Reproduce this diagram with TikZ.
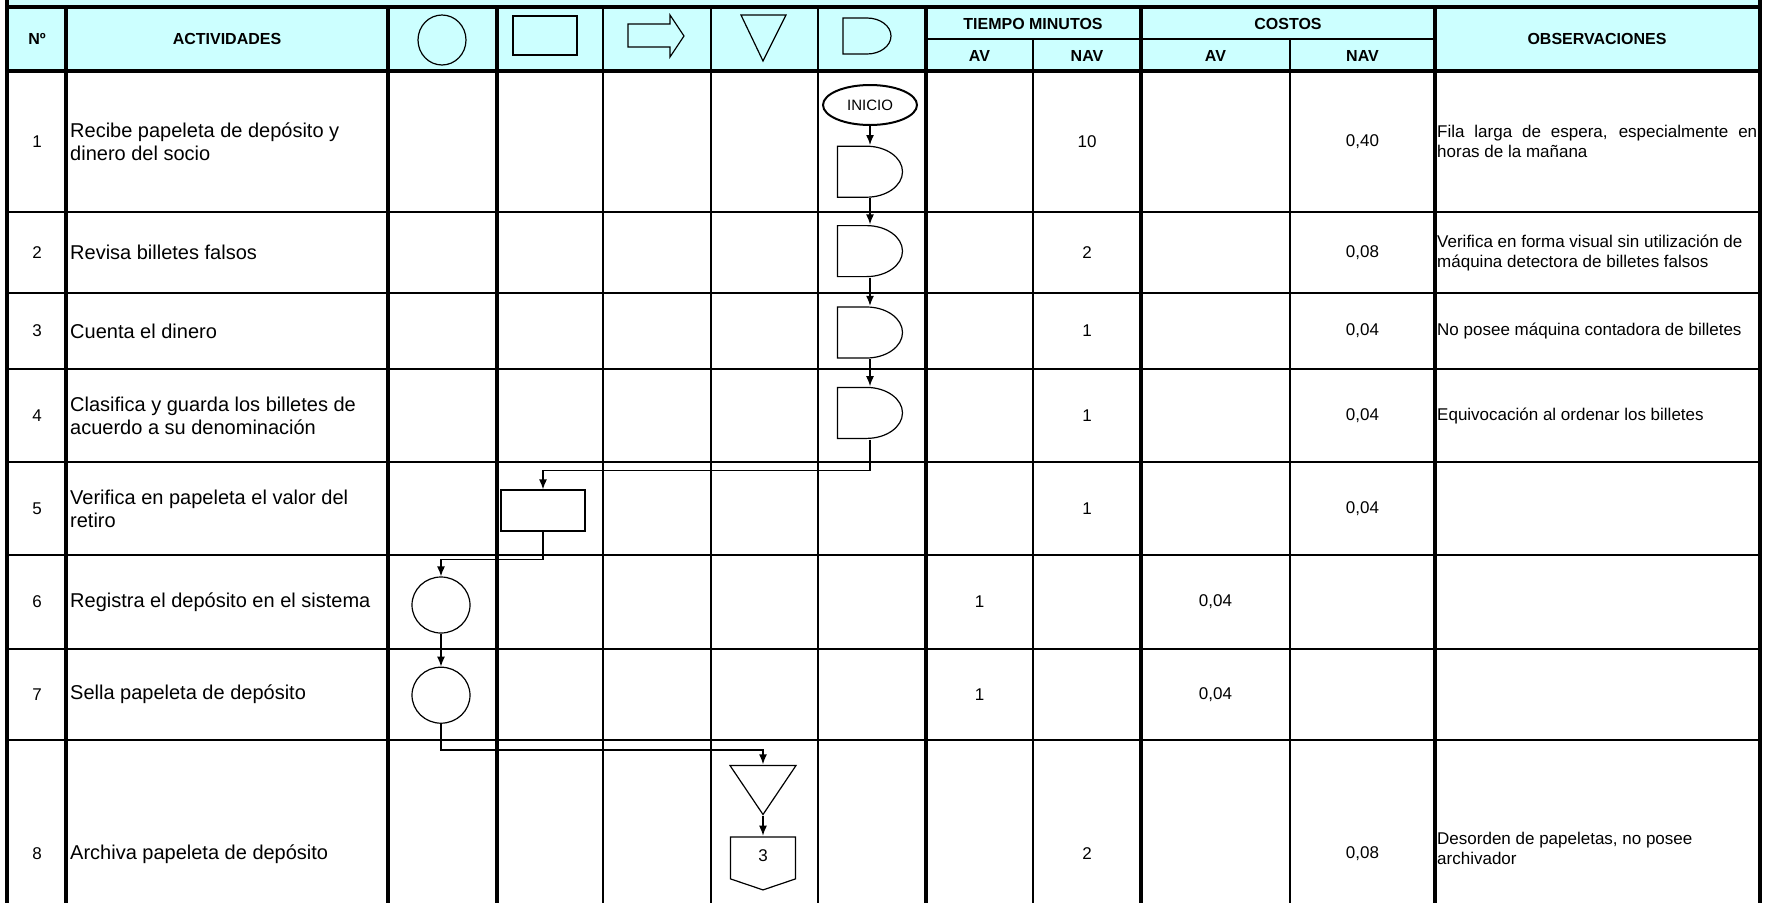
\documentclass[tikz,border=0pt]{standalone}
\usepackage{fontspec}
\setmainfont{Liberation Sans}
\usepackage{xcolor}
\usepackage{tikz}
\usetikzlibrary{shapes,arrows.meta,positioning,calc}
\definecolor{cabecera}{HTML}{CCFFFF}
\tikzstyle{grueso} = [line width=3.2pt]
\tikzstyle{fino} = [line width=2.2pt]
\tikzstyle{simbolo} = [line width=1.2pt]
\tikzstyle{arrow} = [-{Latex[length=10pt,width=8pt]}, line width=1.4pt]
\tikzstyle{startstop} = [ellipse, draw, line width=2pt, minimum width=94pt,
    minimum height=40pt, inner sep=0pt, font=\fontsize{15}{17}\selectfont]
\tikzstyle{demora} = [minimum width=67pt, minimum height=53pt, inner sep=0pt,
    path picture={\draw[simbolo] ([shift={(1,1)}]path picture bounding box.north west) -- ++(29,0)
      arc[start angle=-90, end angle=90, x radius=36, y radius=25.5]
      -- ([shift={(1,-1)}]path picture bounding box.south west) -- cycle;}]
\tikzstyle{operacion} = [ellipse, draw, line width=1.2pt, minimum width=58pt,
    minimum height=56pt, inner sep=0pt]
\tikzstyle{inspeccion} = [rectangle, draw, line width=1.2pt, minimum width=84pt,
    minimum height=41pt, inner sep=0pt]
\tikzstyle{archivo} = [minimum width=68pt, minimum height=51pt, inner sep=0pt,
    path picture={\draw[simbolo] ([shift={(1,1)}]path picture bounding box.north west)
      -- ([shift={(-1,1)}]path picture bounding box.north east)
      -- ([shift={(0,-1)}]path picture bounding box.south) -- cycle;}]
\tikzstyle{conector} = [minimum width=67pt, minimum height=55pt, inner sep=0pt,
    text depth=15pt, font=\fontsize{17}{20}\selectfont,
    path picture={\draw[simbolo] ([shift={(1,1)}]path picture bounding box.north west)
      -- ([shift={(-1,1)}]path picture bounding box.north east)
      -- ([shift={(-1,43)}]path picture bounding box.north east)
      -- ([shift={(0,-1)}]path picture bounding box.south)
      -- ([shift={(1,43)}]path picture bounding box.north west) -- cycle;}]
\tikzstyle{titulo} = [font=\bfseries\fontsize{16}{18}\selectfont]
\tikzstyle{actividad} = [anchor=west, align=left, inner sep=0pt, font=\fontsize{20}{23}\selectfont]
\tikzstyle{valor} = [font=\fontsize{17}{20}\selectfont]
\tikzstyle{nota} = [anchor=west, align=left, inner sep=0pt, font=\fontsize{17}{20}\selectfont]

\begin{document}
\begin{tikzpicture}[x=1pt,y=-1pt]
\useasboundingbox (0,0) rectangle (1770,903);
% cabecera
\fill[cabecera] (7,0) rectangle (1760,71);
% rejilla
\draw[fino] (603,7) -- (603,903) (711,7) -- (711,903) (818,7) -- (818,903)
    (1033,39) -- (1033,903) (1290,39) -- (1290,903) (926,39) -- (1435,39)
    (7,212) -- (1760,212) (7,293) -- (1760,293) (7,369) -- (1760,369)
    (7,462) -- (1760,462) (7,555) -- (1760,555) (7,649) -- (1760,649)
    (7,740) -- (1760,740);
\draw[grueso] (7,0) -- (7,903) (1760,0) -- (1760,903) (7,7) -- (1760,7) (7,71) -- (1760,71)
    (66,7) -- (66,903) (388,7) -- (388,903) (497,7) -- (497,903)
    (926,7) -- (926,903) (1141,7) -- (1141,903) (1435,7) -- (1435,903);

% simbolos de la cabecera
\draw[simbolo] (442,40) ellipse [x radius=24, y radius=25];
\draw[simbolo] (513,16) rectangle (577,55);
\draw[simbolo] (628,24) -- (670,24) -- (670,15) -- (684,36) -- (670,57) -- (670,47) -- (628,47) -- cycle;
\draw[simbolo] (741,15) -- (786,15) -- (763,61) -- cycle;
\draw[simbolo] (843,18) -- (867,18) arc[start angle=-90, end angle=90, x radius=24, y radius=18] -- (843,54) -- cycle;

\node[titulo] (h1) at (37,39) {Nº};
\node[titulo] (h2) at (227,39) {ACTIVIDADES};
\node[titulo] (h3) at (1033,24) {TIEMPO MINUTOS};
\node[titulo] (h4) at (979.5,56) {AV};
\node[titulo] (h5) at (1087,56) {NAV};
\node[titulo] (h6) at (1288,24) {COSTOS};
\node[titulo] (h7) at (1215.5,56) {AV};
\node[titulo] (h8) at (1362.5,56) {NAV};
\node[titulo] (h9) at (1597,39) {OBSERVACIONES};

% flujo
\node[startstop] (s0) at (870,105) {INICIO};
\node[demora, below=19pt of s0] (s1) {};
\node[demora, below=26pt of s1] (s2) {};
\node[demora, below=28pt of s2] (s3) {};
\node[demora, below=27pt of s3] (s4) {};
\node[inspeccion] (s5) at (543,510.5) {};
\node[operacion] (s6) at (441,605) {};
\node[operacion, below=33pt of s6] (s7) {};
\node[archivo] (s8) at (763,790) {};
\node[conector, below=20pt of s8] (s9) {3};

\draw[arrow] (s0) -- (s1);
\draw[arrow] (s1) -- (s2);
\draw[arrow] (s2) -- (s3);
\draw[arrow] (s3) -- (s4);
\draw[arrow] (s4.south) -- ++(0,31) -| (s5.north);
\draw[arrow] (s5.south) -- ++(0,28) -| (s6.north);
\draw[arrow] (s6) -- (s7);
\draw[arrow] (s7.south) -- ++(0,26) -| (s8.north);
\draw[arrow] (s8) -- (s9);

% numeros
\node[valor] (n1) at (37,141.5) {1};
\node[valor] (n2) at (37,252.5) {2};
\node[valor] (n3) at (37,331) {3};
\node[valor] (n4) at (37,415.5) {4};
\node[valor] (n5) at (37,508.5) {5};
\node[valor] (n6) at (37,602) {6};
\node[valor] (n7) at (37,694.5) {7};
\node[valor] (n8) at (37,854) {8};

% actividades
\node[actividad] (a1) at (70,141.5) {Recibe papeleta de depósito y\\dinero del socio};
\node[actividad] (a2) at (70,252.5) {Revisa billetes falsos};
\node[actividad] (a3) at (70,331) {Cuenta el dinero};
\node[actividad] (a4) at (70,415.5) {Clasifica y guarda los billetes de\\acuerdo a su denominación};
\node[actividad] (a5) at (70,508.5) {Verifica en papeleta el valor del\\retiro};
\node[actividad] (a6) at (70,602) {Registra el depósito en el sistema};
\node[actividad] (a7) at (70,694.5) {Sella papeleta de depósito};
\node[actividad] (a8) at (70,854) {Archiva papeleta de depósito};

% tiempos
\node[valor] (t1) at (1087,141.5) {10};
\node[valor] (t2) at (1087,252.5) {2};
\node[valor] (t3) at (1087,331) {1};
\node[valor] (t4) at (1087,415.5) {1};
\node[valor] (t5) at (1087,508.5) {1};
\node[valor] (t6) at (979.5,602) {1};
\node[valor] (t7) at (979.5,694.5) {1};
\node[valor] (t8) at (1087,854) {2};

% costos
\node[valor] (c1) at (1362.5,141.5) {0,40};
\node[valor] (c2) at (1362.5,252.5) {0,08};
\node[valor] (c3) at (1362.5,331) {0,04};
\node[valor] (c4) at (1362.5,415.5) {0,04};
\node[valor] (c5) at (1362.5,508.5) {0,04};
\node[valor] (c6) at (1215.5,602) {0,04};
\node[valor] (c7) at (1215.5,694.5) {0,04};
\node[valor] (c8) at (1362.5,854) {0,08};

% observaciones
\node[nota, text width=320pt, align=justify] (o1) at (1437,141.5) {Fila larga de espera, especialmente en\linebreak horas de la mañana};
\node[nota] (o2) at (1437,252.5) {Verifica en forma visual sin utilización de\\máquina detectora de billetes falsos};
\node[nota] (o3) at (1437,331) {No posee máquina contadora de billetes};
\node[nota] (o4) at (1437,415.5) {Equivocación al ordenar los billetes};
\node[nota] (o8) at (1437,848) {Desorden de papeletas, no posee\\archivador};
\end{tikzpicture}
\end{document}
